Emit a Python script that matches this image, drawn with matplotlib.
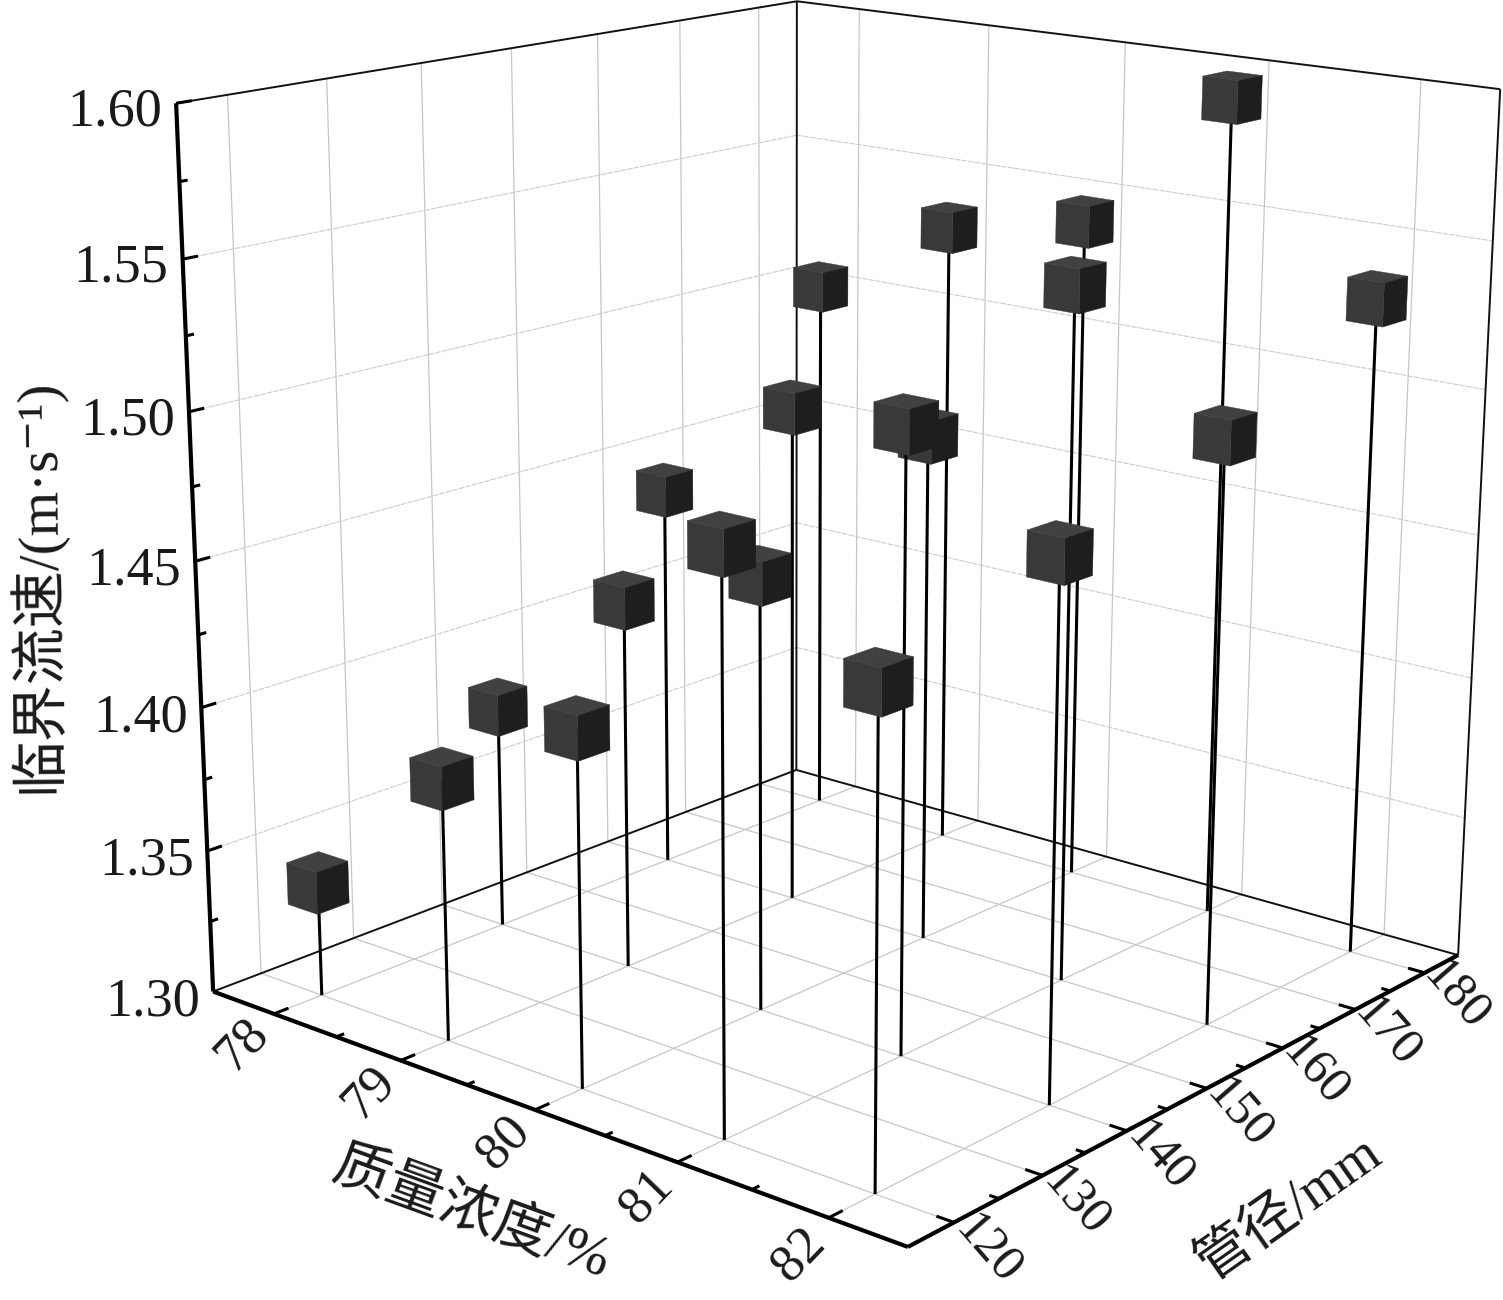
import matplotlib
matplotlib.use('Agg')
import matplotlib.pyplot as plt
from mpl_toolkits.mplot3d import proj3d
from mpl_toolkits.mplot3d.art3d import Poly3DCollection

plt.rcParams['font.family'] = ['Liberation Serif', 'Noto Sans CJK SC', 'DejaVu Serif']

# mass concentration (%), pipe diameter (mm), critical velocity (m/s)
mass = [78, 79, 80, 81, 82]
diameter = [120, 140, 160, 180]
speed_d120 = [1.34, 1.39, 1.42, 1.49, 1.46]
speed_d140 = [1.38, 1.43, 1.45, 1.51, 1.48]
speed_d160 = [1.44, 1.48, 1.48, 1.54, 1.50]
speed_d180 = [1.50, 1.53, 1.54, 1.59, 1.53]

x_ticks = [78, 79, 80, 81, 82]
y_ticks = [120, 130, 140, 150, 160, 170, 180]
z_ticks = [1.30, 1.35, 1.40, 1.45, 1.50, 1.55, 1.60]
x_minor = [78.5, 79.5, 80.5, 81.5]
y_minor = [125, 135, 145, 155, 165, 175]
z_minor = [1.325, 1.375, 1.425, 1.475, 1.525, 1.575]

x0, x1 = 77.5, 82.5
y0, y1 = 115, 185
z0, z1 = 1.30, 1.60

W, H = 1503, 1300
fig = plt.figure(figsize=(W / 100, H / 100), dpi=100)
side = 1531.4
ax = fig.add_axes([59.2 / W, -34.5 / H, side / W, side / H], projection='3d',
                  computed_zorder=False)
ax.set_proj_type('persp', focal_length=0.4878)
ax.set_box_aspect((1, 1, 1))
ax.view_init(15.855, -50.096, -0.237)
ax.set_xlim(x0, x1)
ax.set_ylim(y0, y1)
ax.set_zlim(z0, z1)
ax.set_axis_off()


def line(xs, ys, zs, **kw):
    ax.plot(xs, ys, zs, solid_capstyle='butt', **kw)


def label(x, y, z, s, **kw):
    # 3D text ignores rotation, so project the anchor and place it in 2D
    px, py, _ = proj3d.proj_transform(x, y, z, ax.get_proj())
    ax.text2D(px, py, s, transform=ax.transData, color='#1a1a1a', **kw)


# grid
grid = dict(color='#c6c6c6', lw=0.9, zorder=1)
wall = dict(color='#cccccc', lw=0.8, ls=(0, (5, 1)), zorder=1)
for v in x_ticks:
    line([v, v], [y0, y1], [z0, z0], **grid)
    line([v, v], [y1, y1], [z0, z1], **grid)
for v in y_ticks:
    line([x0, x1], [v, v], [z0, z0], **grid)
    line([x0, x0], [v, v], [z0, z1], **grid)
for v in z_ticks[1:-1]:
    ax.plot([x0, x0], [y0, y1], [v, v], **wall)
    ax.plot([x0, x1], [y1, y1], [v, v], **wall)

# box, back edges thin
thin = dict(color='#111111', lw=1.4, zorder=2)
line([x0, x0], [y0, y1], [z0, z0], **thin)
line([x0, x1], [y1, y1], [z0, z0], **thin)
line([x0, x0], [y1, y1], [z0, z1], **thin)
line([x1, x1], [y1, y1], [z0, z1], **thin)
line([x0, x0], [y0, y1], [z1, z1], **thin)
line([x0, x1], [y1, y1], [z1, z1], **thin)

# stems and cubes, back to front
speeds = [speed_d120, speed_d140, speed_d160, speed_d180]
points = []
for j, d in enumerate(diameter):
    for i, m in enumerate(mass):
        points.append((m, d, speeds[j][i]))
points.sort(key=lambda p: (p[0] - x0) / (x1 - x0) + (y1 - p[1]) / (y1 - y0))

hx = 0.0237 * (x1 - x0)
hy = 0.0237 * (y1 - y0)
hz = 0.0245 * (z1 - z0)
for n, (m, d, v) in enumerate(points):
    zo = 3 + n
    line([m, m], [d, d], [z0, v], color='black', lw=2.2, zorder=zo)
    xa, xb = m - hx, m + hx
    ya, yb = d - hy, d + hy
    za, zb = v - hz, v + hz
    faces = [
        [(xa, ya, za), (xb, ya, za), (xb, ya, zb), (xa, ya, zb)],
        [(xb, ya, za), (xb, yb, za), (xb, yb, zb), (xb, ya, zb)],
        [(xa, ya, zb), (xb, ya, zb), (xb, yb, zb), (xa, yb, zb)],
    ]
    cols = ['#393939', '#1e1e1e', '#414141']
    ax.add_collection3d(Poly3DCollection(faces, facecolors=cols, edgecolors=cols,
                                         linewidths=0.3, zorder=zo + 0.5))

# front axes, heavy
heavy = dict(color='black', lw=3.0, zorder=40)
line([x0, x1], [y0, y0], [z0, z0], **heavy)
line([x1, x1], [y0, y1], [z0, z0], **heavy)
line([x0, x0], [y0, y0], [z0, z1], **heavy)

# ticks point inward
tick = dict(color='black', lw=2.2, zorder=40)
for v in x_ticks:
    line([v, v], [y0, y0 + 1.5], [z0, z0], **tick)
for v in x_minor:
    line([v, v], [y0, y0 + 0.8], [z0, z0], **tick)
for v in y_ticks:
    line([x1, x1 - 0.11], [v, v], [z0, z0], **tick)
for v in y_minor:
    line([x1, x1 - 0.06], [v, v], [z0, z0], **tick)
for v in z_ticks[1:]:
    line([x0, x0], [y0, y0 + 1.5], [v, v], **tick)
for v in z_minor:
    line([x0, x0], [y0, y0 + 0.8], [v, v], **tick)

# tick labels
for v in x_ticks:
    label(v + 0.04, y0 - 3.8, z0 - 0.005, str(v), fontsize=38, rotation=46,
          ha='center', va='center', rotation_mode='anchor')
for v in y_ticks:
    label(x1 + 0.21, v, z0 - 0.005, str(v), fontsize=36, rotation=-49,
          ha='center', va='center', rotation_mode='anchor')
for v in z_ticks:
    label(x0, y0 - 1.4, v - 0.002, f'{v:.2f}', fontsize=39, ha='right', va='center')

# axis titles
fig.text(471 / W, 1 - 1215 / H, '质量浓度/%', fontsize=41, color='#1a1a1a', rotation=-20,
         ha='center', va='center')
fig.text(1289 / W, 1 - 1209 / H, '管径/mm', fontsize=40, color='#1a1a1a', rotation=35,
         ha='center', va='center')
fig.text(36 / W, 1 - 586 / H, '临界流速/(m·s⁻¹)', fontsize=41, color='#1a1a1a', rotation=90.5,
         ha='center', va='center')

fig.savefig('out.png', dpi=100)
